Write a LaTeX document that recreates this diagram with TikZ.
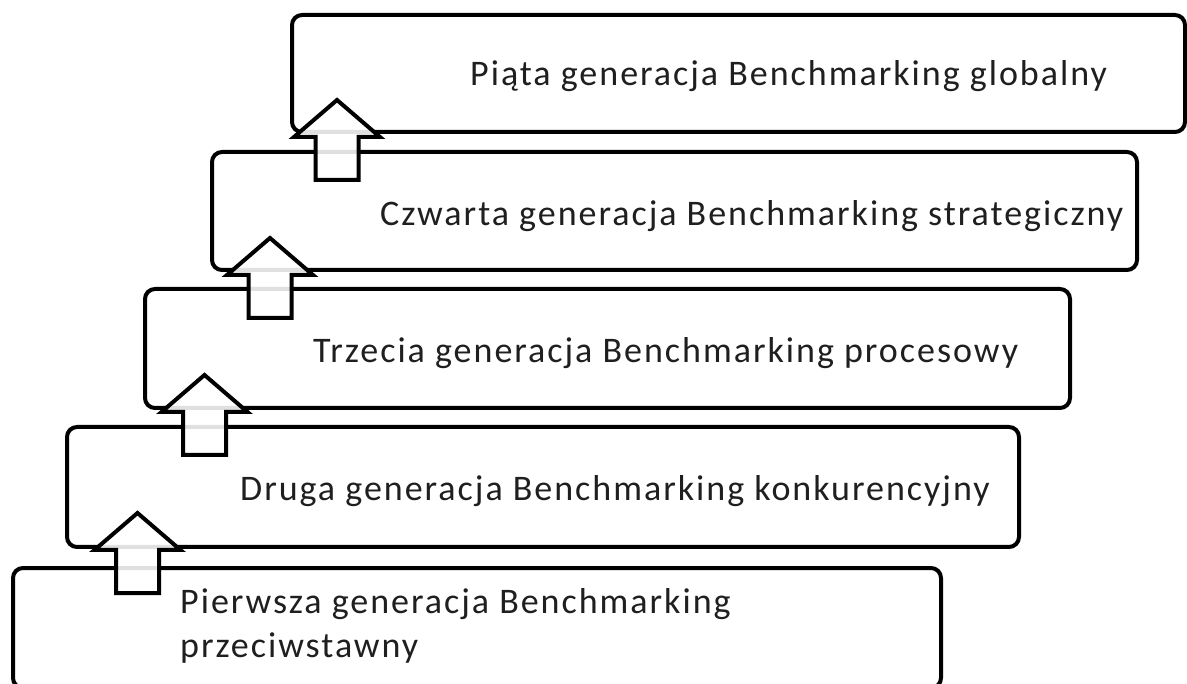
\documentclass[tikz,border=0pt]{standalone}
\usepackage{fontspec}
\setmainfont[LetterSpace=5.5]{Carlito}
\begin{document}
\begin{tikzpicture}[x=1pt,y=-1pt,
  stage/.style={draw=black, line width=4pt, rounded corners=10pt, fill=white, inner sep=0pt},
  uparrow/.style={draw=black, line width=4pt, fill=white, fill opacity=0.88, line join=miter},
  lbl/.style={font=\fontsize{36}{44}\selectfont, text=black!88, anchor=base west, inner sep=0pt, align=left}]
\useasboundingbox (0,0) rectangle (1187,684);
% boxes
\node[stage, minimum width=928pt, minimum height=120pt] (b1) at (477,628) {};
\node[stage, minimum width=952pt, minimum height=120pt] (b2) at (543,487) {};
\node[stage, minimum width=925pt, minimum height=119pt] (b3) at (607.5,348.5) {};
\node[stage, minimum width=925pt, minimum height=118pt] (b4) at (674.5,211) {};
\node[stage, minimum width=893pt, minimum height=117pt] (b5) at (738.5,73.5) {};
% texts
\node[lbl] (t1) at (180,657) {Pierwsza generacja Benchmarking\\przeciwstawny};
\node[lbl] (t2) at (240,501) {Druga generacja Benchmarking konkurencyjny};
\node[lbl] (t3) at (313,363) {Trzecia generacja Benchmarking procesowy};
\node[lbl] (t4) at (380,226) {Czwarta generacja Benchmarking strategiczny};
\node[lbl] (t5) at (470,86) {Piąta generacja Benchmarking globalny};
% block arrows
\foreach \cx/\ty [count=\i] in {137.5/513, 204.5/375, 270/238, 337/100}{
  \draw[uparrow] (\cx,\ty) -- ++(43,37) -- ++(-21.5,0) -- ++(0,43) -- ++(-43,0)
     -- ++(0,-43) -- ++(-21.5,0) -- cycle;
}
\end{tikzpicture}
\end{document}
